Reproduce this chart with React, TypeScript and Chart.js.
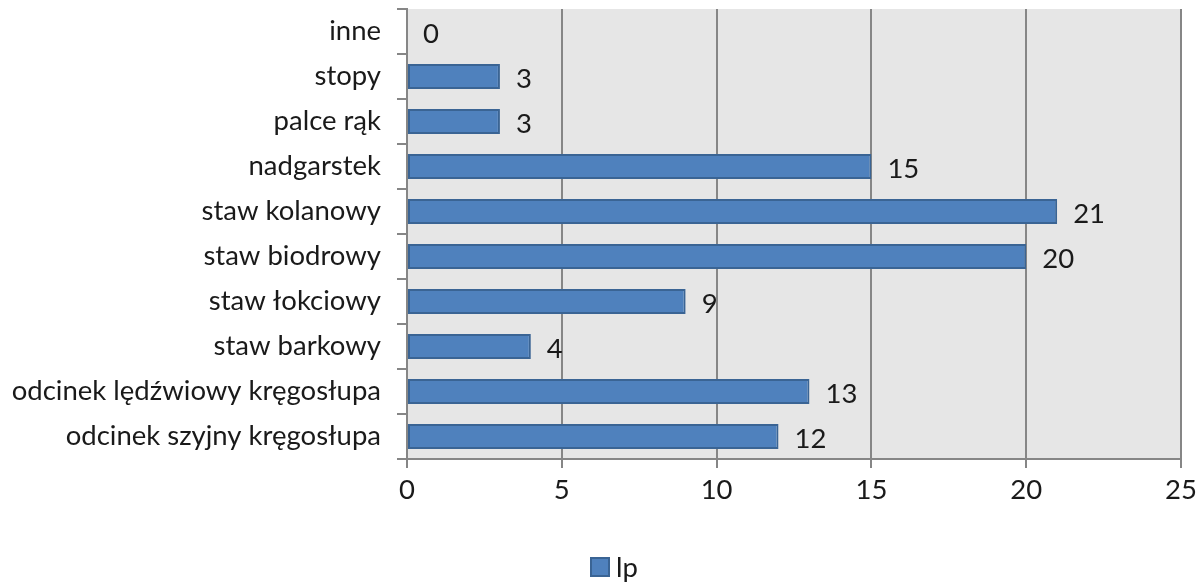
import React, { useEffect, useRef } from "react";
import { Chart, registerables } from "chart.js";

Chart.register(...registerables);

const categories: string[] = [
  "inne",
  "stopy",
  "palce rąk",
  "nadgarstek",
  "staw kolanowy",
  "staw biodrowy",
  "staw łokciowy",
  "staw barkowy",
  "odcinek lędźwiowy kręgosłupa",
  "odcinek szyjny kręgosłupa",
];
const seriesName = "lp";
const values: number[] = [0, 3, 3, 15, 21, 20, 9, 4, 13, 12];
const xTicks: number[] = [0, 5, 10, 15, 20, 25];

const FONT = "Lato, 'Open Sans', sans-serif";
const FSIZE = 27.5;
const FILL = "#4f81bd";
const BORDER = "#3a6494";
const GRID = "#868686";
const TEXT = "#1a1a1a";

const bgPlugin = {
  id: "plotBg",
  beforeDraw(chart: any) {
    const { ctx, chartArea } = chart;
    ctx.save();
    ctx.fillStyle = "#e6e6e6";
    ctx.fillRect(chartArea.left, chartArea.top, chartArea.right - chartArea.left, chartArea.bottom - chartArea.top);
    ctx.restore();
  },
};

const labelPlugin = {
  id: "valueLabels",
  afterDatasetsDraw(chart: any) {
    const { ctx } = chart;
    const meta = chart.getDatasetMeta(0);
    ctx.save();
    ctx.font = `${FSIZE}px ${FONT}`;
    ctx.fillStyle = TEXT;
    ctx.textAlign = "left";
    ctx.textBaseline = "middle";
    meta.data.forEach((el: any, i: number) => {
      ctx.fillText(String(values[i]), el.x + 16, el.y + 3);
    });
    ctx.restore();
  },
};

const legendPlugin = {
  id: "customLegend",
  afterDraw(chart: any) {
    const { ctx } = chart;
    ctx.save();
    ctx.fillStyle = FILL;
    ctx.strokeStyle = BORDER;
    ctx.lineWidth = 2;
    ctx.fillRect(591, 558, 18, 18);
    ctx.strokeRect(591, 558, 18, 18);
    ctx.font = `${FSIZE}px ${FONT}`;
    ctx.fillStyle = TEXT;
    ctx.textAlign = "left";
    ctx.textBaseline = "middle";
    ctx.fillText(seriesName, 616, 568);
    ctx.restore();
  },
};

export default function App() {
  const ref = useRef<HTMLCanvasElement | null>(null);
  useEffect(() => {
    document.body.style.margin = "0";
    const chart = new Chart(ref.current as HTMLCanvasElement, {
      type: "bar",
      data: {
        labels: categories,
        datasets: [
          {
            label: seriesName,
            data: values,
            backgroundColor: FILL,
            borderColor: BORDER,
            borderWidth: 2,
            borderSkipped: false,
            barPercentage: 0.56,
            categoryPercentage: 1,
          },
        ],
      },
      options: {
        indexAxis: "y",
        animation: false,
        responsive: false,
        maintainAspectRatio: false,
        layout: { padding: { left: 0, right: 23, top: 9, bottom: 0 } },
        plugins: {
          legend: { display: false },
          tooltip: { enabled: false },
        },
        scales: {
          x: {
            min: 0,
            max: 25,
            afterBuildTicks: (scale: any) => {
              scale.ticks = xTicks.map((v) => ({ value: v }));
            },
            afterFit: (scale: any) => {
              scale.height = 124;
              scale.paddingLeft = 0;
              scale.paddingRight = 0;
            },
            grid: { color: GRID, lineWidth: 2, tickLength: 9, drawTicks: true },
            border: { color: GRID, width: 2 },
            ticks: {
              font: { family: FONT, size: FSIZE },
              color: TEXT,
              padding: 6,
            },
          },
          y: {
            offset: true,
            afterFit: (scale: any) => {
              scale.width = 407;
              scale.paddingTop = 0;
              scale.paddingBottom = 0;
            },
            grid: { offset: true, drawOnChartArea: false, color: GRID, lineWidth: 2, tickLength: 10 },
            border: { color: GRID, width: 2 },
            ticks: {
              font: { family: FONT, size: FSIZE },
              color: TEXT,
              padding: 16,
              autoSkip: false,
            },
          },
        },
      },
      plugins: [bgPlugin, labelPlugin, legendPlugin],
    });
    return () => chart.destroy();
  }, []);
  return (
    <div style={{ width: 1204, height: 583, background: "#fff" }}>
      <canvas ref={ref} width={1204} height={583} style={{ display: "block", width: 1204, height: 583 }} />
    </div>
  );
}
